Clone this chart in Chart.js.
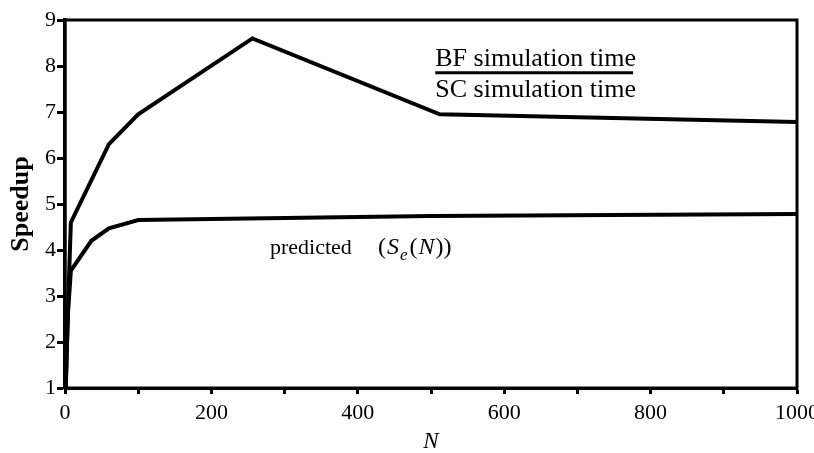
<!DOCTYPE html>
<html>
<head>
<meta charset="utf-8">
<script src="https://cdn.jsdelivr.net/npm/chart.js@4/dist/chart.umd.min.js"></script>
<style>
  html, body { margin: 0; padding: 0; background: #fff; }
  #wrap { width: 814px; height: 453px; }
</style>
</head>
<body>
<div id="wrap"><canvas id="chart" width="814" height="453"></canvas></div>
<script>
// Measured speedup (BF simulation time / SC simulation time) vs N
const measuredN       = [1, 4, 8, 60, 100, 256, 512, 1000];
const measuredSpeedup = [1.0, 2.7, 4.6, 6.3, 6.95, 8.6, 6.95, 6.78];

// Predicted speedup S_e(N)
const predictedN       = [1, 4, 8, 36, 60, 100, 500, 1000];
const predictedSpeedup = [1.0, 2.6, 3.55, 4.2, 4.47, 4.65, 4.74, 4.78];

// Axis ticks
const xTicks = [0, 200, 400, 600, 800, 1000];
const yTicks = [1, 2, 3, 4, 5, 6, 7, 8, 9];

const toPoints = (xs, ys) => xs.map((x, i) => ({ x: x, y: ys[i] }));

const SERIF = '"Liberation Serif", "DejaVu Serif", serif';

// Frame around the plot plus the in-plot annotations
const annotate = {
  id: 'annotate',
  afterDatasetsDraw(chart) {
    const { ctx, chartArea: a, scales: { x, y } } = chart;
    ctx.save();
    ctx.strokeStyle = '#000';
    ctx.lineWidth = 3;
    ctx.strokeRect(a.left, a.top, a.right - a.left, a.bottom - a.top);

    // ratio label
    ctx.fillStyle = '#000';
    ctx.font = '26px ' + SERIF;
    ctx.textAlign = 'center';
    ctx.textBaseline = 'alphabetic';
    const cx = x.getPixelForValue(643);
    const top = 'BF simulation time';
    const bot = 'SC simulation time';
    ctx.fillText(top, cx, y.getPixelForValue(8.0));
    ctx.fillText(bot, cx, y.getPixelForValue(7.33));
    const w = Math.max(ctx.measureText(top).width, ctx.measureText(bot).width);
    ctx.lineWidth = 3;
    ctx.beginPath();
    const by = y.getPixelForValue(7.855);
    ctx.moveTo(cx - w / 2, by);
    ctx.lineTo(cx + w / 2 - 3, by);
    ctx.stroke();

    // predicted (S_e(N))
    ctx.textAlign = 'left';
    const py = y.getPixelForValue(3.91);
    ctx.font = '22px ' + SERIF;
    ctx.fillText('predicted', x.getPixelForValue(280), py);
    let px = x.getPixelForValue(280) + 108;
    const reg = '24px ' + SERIF, ita = 'italic 24px ' + SERIF, sub = 'italic 17px ' + SERIF;
    const parts = [
      ['(', reg, 0, 1],
      ['S', ita, 0, 1],
      ['e', sub, 6, 2],
      ['(', reg, 0, 1],
      ['N', ita, 0, 1],
      ['))', reg, 0, 0]
    ];
    parts.forEach(([t, f, dy, gap]) => {
      ctx.font = f;
      ctx.fillText(t, px, py + dy);
      px += ctx.measureText(t).width + gap;
    });
    ctx.restore();
  }
};

new Chart(document.getElementById('chart'), {
  type: 'line',
  data: {
    datasets: [
      {
        label: 'BF simulation time / SC simulation time',
        data: toPoints(measuredN, measuredSpeedup),
        borderColor: '#000',
        borderWidth: 4,
        pointRadius: 0,
        tension: 0,
        fill: false
      },
      {
        label: 'predicted (Se(N))',
        data: toPoints(predictedN, predictedSpeedup),
        borderColor: '#000',
        borderWidth: 4,
        pointRadius: 0,
        tension: 0,
        fill: false
      }
    ]
  },
  options: {
    responsive: false,
    animation: false,
    devicePixelRatio: 1,
    layout: { padding: { top: 20, right: 17, bottom: 0, left: 0 } },
    plugins: { legend: { display: false }, tooltip: { enabled: false } },
    scales: {
      x: {
        type: 'linear',
        min: 0,
        max: 1000,
        afterFit(s) { s.height = 65; s.paddingLeft = 0; s.paddingRight = 0; },
        ticks: {
          stepSize: 100,
          autoSkip: false,
          maxRotation: 0,
          padding: 6,
          color: '#000',
          font: { family: SERIF, size: 22 },
          callback: v => (xTicks.includes(v) ? String(v) : '')
        },
        grid: { drawOnChartArea: false, tickLength: 6, tickWidth: 3, tickColor: '#000' },
        border: { color: '#000', width: 3 },
        title: {
          display: true,
          text: 'N',
          color: '#000',
          font: { family: SERIF, size: 23, style: 'italic', lineHeight: 1 },
          padding: { top: 0, bottom: 0 }
        }
      },
      y: {
        type: 'linear',
        min: 1,
        max: 9,
        afterFit(s) { s.width = 65; s.paddingTop = 0; s.paddingBottom = 0; },
        afterBuildTicks(s) { s.ticks = yTicks.map(v => ({ value: v })); },
        ticks: {
          padding: 1,
          color: '#000',
          font: { family: SERIF, size: 22 }
        },
        grid: { drawOnChartArea: false, tickLength: 8, tickWidth: 3, tickColor: '#000' },
        border: { color: '#000', width: 3.5 },
        title: {
          display: true,
          text: 'Speedup',
          color: '#000',
          font: { family: SERIF, size: 26, weight: 'bold', lineHeight: 1.2 },
          padding: { top: 6, bottom: 0 }
        }
      }
    }
  },
  plugins: [annotate]
});
</script>
</body>
</html>
